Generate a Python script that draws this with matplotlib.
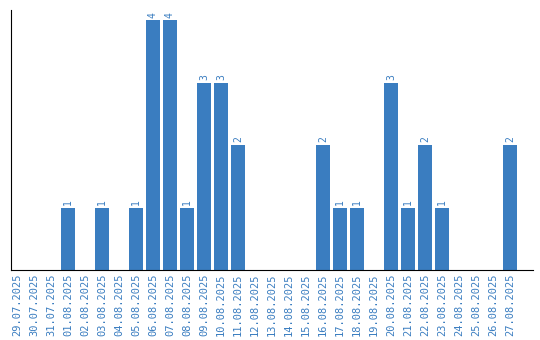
import matplotlib
matplotlib.use("Agg")
import matplotlib.pyplot as plt

dates = ["29.07.2025", "30.07.2025", "31.07.2025", "01.08.2025", "02.08.2025",
         "03.08.2025", "04.08.2025", "05.08.2025", "06.08.2025", "07.08.2025",
         "08.08.2025", "09.08.2025", "10.08.2025", "11.08.2025", "12.08.2025",
         "13.08.2025", "14.08.2025", "15.08.2025", "16.08.2025", "17.08.2025",
         "18.08.2025", "19.08.2025", "20.08.2025", "21.08.2025", "22.08.2025",
         "23.08.2025", "24.08.2025", "25.08.2025", "26.08.2025", "27.08.2025"]
counts = [0, 0, 0, 1, 0, 1, 0, 1, 4, 4, 1, 3, 3, 2, 0,
          0, 0, 0, 2, 1, 1, 0, 3, 1, 2, 1, 0, 0, 0, 2]

blue = "#3a7dc0"

fig = plt.figure(figsize=(5.4, 3.4), dpi=100)
ax = fig.add_axes([11/540, 1 - 270/340, 522/540, 260/340])

x = range(len(dates))
ax.bar(x, counts, width=0.82, color=blue)
for i, c in enumerate(counts):
    if c > 0:
        ax.text(i, c + 0.04, str(c), rotation=90, ha="center", va="bottom",
                color=blue, fontsize=7, family="DejaVu Sans Mono")

ax.set_xlim(-0.35, len(dates) - 1 + 1.35)
ax.set_ylim(0, 4.16)
ax.set_xticks(list(x))
ax.set_xticklabels(dates, rotation=90, color=blue, fontsize=7.5,
                   family="DejaVu Sans Mono")
ax.tick_params(axis="x", length=0, pad=2.5)
ax.set_yticks([])
for s in ["top", "right"]:
    ax.spines[s].set_visible(False)
ax.spines["left"].set_color("black")
ax.spines["bottom"].set_color("black")

fig.savefig("out.png", dpi=100)
